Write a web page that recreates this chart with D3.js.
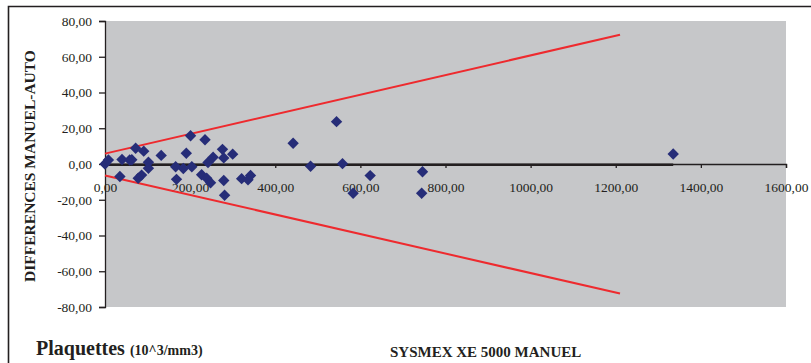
<!DOCTYPE html>
<html>
<head>
<meta charset="utf-8">
<script src="https://cdn.jsdelivr.net/npm/d3@7"></script>
<style>
  html, body { margin: 0; padding: 0; background: #ffffff; }
  svg { display: block; }
  text { font-family: "Liberation Serif", "Times New Roman", serif; fill: #231f20; }
</style>
</head>
<body>
<svg id="chart" width="811" height="363"></svg>
<script>
// Platelet counts: mean of the two methods (x) vs. manual - auto difference (y)
const meanValues = [0, 8, 35, 40, 58, 63, 72, 91, 102, 102, 86, 78, 132, 166, 168, 191, 184, 201, 204,
  235, 227, 239, 248, 242, 254, 276, 279, 279, 281, 300, 321, 342, 336, 442, 483, 544, 558, 583,
  623, 746, 744, 1335];
const diffValues = [0, 2.2, -7, 2.5, 2.2, 2.4, 8.8, 7.2, 1.0, -2.4, -6.2, -8, 4.8, -1.5, -8.6, 6, -2.5, 15.8, -1.5,
  13.6, -6, -8, -10.5, 0.8, 3.8, 8.2, 3.4, -9.2, -17.5, 5.5, -8.2, -6.4, -8.8, 11.6, -1.3, 23.7, 0.2, -16.4,
  -6.5, -4.3, -16.4, 5.6];

// Mean bias line and limits of agreement
const biasX = [0, 1335];
const biasY = [-0.4, -0.4];
const limitX = [0, 1210];
const upperLimit = [5.8, 72.3];
const lowerLimit = [-6.4, -72.5];

const xTicks = [0, 200, 400, 600, 800, 1000, 1200, 1400, 1600];
const yTicks = [80, 60, 40, 20, 0, -20, -40, -60, -80];

const fmt = v => v.toFixed(2).replace(".", ",");

const svg = d3.select("#chart");

// outer frame (open to the right and bottom)
svg.append("path")
  .attr("d", "M8.5,363 V6.5 H811")
  .attr("fill", "none")
  .attr("stroke", "#231f20")
  .attr("stroke-width", 1.6);

const plot = { left: 105, right: 786, top: 21, bottom: 307 };

const x = d3.scaleLinear().domain([0, 1600]).range([plot.left, plot.right]);
const y = d3.scaleLinear().domain([-80, 80]).range([plot.bottom, plot.top]);

svg.append("rect")
  .attr("x", plot.left).attr("y", plot.top)
  .attr("width", plot.right - plot.left).attr("height", plot.bottom - plot.top)
  .attr("fill", "#c6c7c9");

// y axis
const yAxis = svg.append("g")
  .attr("transform", `translate(${plot.left},0)`)
  .call(d3.axisLeft(y).tickValues(yTicks).tickFormat(fmt).tickSize(6).tickPadding(7));
yAxis.select(".domain").attr("stroke", "#231f20").attr("stroke-width", 1.3);
yAxis.selectAll(".tick line").attr("stroke", "#231f20").attr("stroke-width", 1.3);
yAxis.selectAll(".tick text")
  .style("font-family", '"Liberation Serif", serif')
  .style("font-size", "13.5px").attr("fill", "#231f20");

// x axis sits at y = 0
const xAxis = svg.append("g")
  .attr("transform", `translate(0,${y(0)})`)
  .call(d3.axisBottom(x).tickValues(xTicks).tickFormat(fmt).tickSize(4).tickSizeOuter(4).tickPadding(14));
xAxis.select(".domain").attr("stroke", "#231f20").attr("stroke-width", 1.3);
xAxis.selectAll(".tick line").attr("stroke", "#231f20").attr("stroke-width", 1.3);
xAxis.selectAll(".tick text")
  .style("font-family", '"Liberation Serif", serif')
  .style("font-size", "13.5px").attr("fill", "#231f20");

const line = d3.line().x(d => x(d[0])).y(d => y(d[1]));

// mean difference
svg.append("path")
  .attr("d", line(biasX.map((v, i) => [v, biasY[i]])))
  .attr("stroke", "#231f20").attr("stroke-width", 2.6).attr("fill", "none");

// limits of agreement
[upperLimit, lowerLimit].forEach(lim => {
  svg.append("path")
    .attr("d", line(limitX.map((v, i) => [v, lim[i]])))
    .attr("stroke", "#ee2a2e").attr("stroke-width", 2).attr("fill", "none");
});

// data points
const diamond = "M0,-5.7L5.7,0L0,5.7L-5.7,0Z";
svg.append("g").selectAll("path")
  .data(meanValues.map((v, i) => [v, diffValues[i]]))
  .join("path")
  .attr("d", diamond)
  .attr("transform", d => `translate(${x(d[0])},${y(d[1])})`)
  .attr("fill", "#262d78");

// axis titles
svg.append("text")
  .attr("transform", `translate(35,166) rotate(-90)`)
  .attr("text-anchor", "middle")
  .style("font-size", "15.5px").style("font-weight", "bold")
  .text("DIFFERENCES MANUEL-AUTO");

const t = svg.append("text").attr("x", 36).attr("y", 355).style("font-weight", "bold");
t.append("tspan").style("font-size", "20px").text("Plaquettes ");
t.append("tspan").style("font-size", "14px").text("(10^3/mm3)");

svg.append("text")
  .attr("x", 390).attr("y", 357)
  .style("font-size", "15px").style("font-weight", "bold")
  .text("SYSMEX XE 5000 MANUEL");
</script>
</body>
</html>
